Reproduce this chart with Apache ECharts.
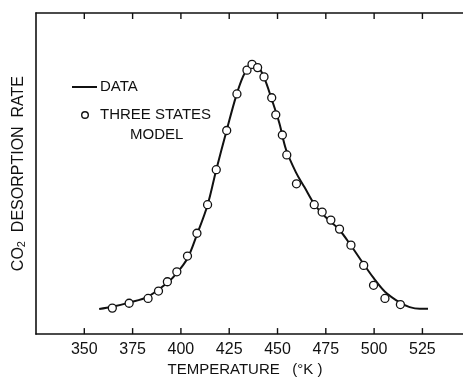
<!DOCTYPE html>
<html>
<head>
<meta charset="utf-8">
<script src="https://cdn.jsdelivr.net/npm/echarts@6/dist/echarts.min.js"></script>
<style>
html,body{margin:0;padding:0;background:#fff;}
#chart{width:463px;height:382px;}
</style>
</head>
<body>
<div id="chart"></div>
<script>
// Measured curve (DATA): temperature (°K) and relative rate
var dataTemp = [357.7, 364.4, 373.2, 383.0, 393.0, 397.9, 403.4, 408.3, 413.8, 418.3, 423.7, 428.6, 432.3, 435.4, 437.5, 439.7, 443.0, 446.9, 451.0, 454.4, 459.6, 464.0, 469.0, 473.3, 477.5, 482.0, 488.0, 494.6, 499.7, 505.6, 513.6, 518.4, 523.6, 527.9];
var dataRate = [7.8, 8.5, 9.8, 11.7, 16.0, 19.0, 23.6, 31.0, 40.2, 51.2, 63.5, 74.2, 80.4, 83.4, 84.4, 83.7, 80.0, 73.3, 65.6, 57.5, 50.3, 45.7, 40.5, 37.4, 35.0, 32.5, 27.6, 21.8, 17.5, 13.2, 9.7, 8.4, 7.9, 7.9];
// Three states model (circles)
var modelTemp = [364.5, 373.2, 383.0, 388.4, 393.0, 397.9, 403.4, 408.3, 413.8, 418.3, 423.7, 429.0, 434.2, 436.8, 439.7, 443.0, 447.0, 449.1, 452.5, 454.8, 459.8, 469.0, 473.1, 477.6, 482.1, 488.0, 494.6, 499.7, 505.6, 513.6];
var modelRate = [8.1, 9.6, 11.1, 13.4, 16.3, 19.4, 24.3, 31.4, 40.3, 51.2, 63.4, 74.8, 82.2, 84.0, 83.0, 80.1, 73.6, 68.3, 62.0, 55.8, 46.8, 40.3, 38.0, 35.5, 32.7, 27.7, 21.4, 15.2, 11.1, 9.2];
var tickValues = [350, 375, 400, 425, 450, 475, 500, 525];

var lineData = dataTemp.map(function (t, i) { return [t, dataRate[i]]; });
var scatterData = modelTemp.map(function (t, i) { return [t, modelRate[i]]; });

var FONT = '"Liberation Sans", Arial, sans-serif';
var INK = '#111';
var Y_MIN = 0, Y_MAX = 100;

var chart = echarts.init(document.getElementById('chart'), null, {renderer: 'canvas'});
chart.setOption({
  animation: false,
  backgroundColor: '#fff',
  grid: {left: 36, right: 0, top: 13, bottom: 43, containLabel: false},
  xAxis: [{
    type: 'value',
    position: 'bottom',
    min: 325, max: 546, interval: 25,
    name: 'TEMPERATURE   (°K )',
    nameLocation: 'middle',
    nameGap: 25,
    nameTextStyle: {fontFamily: FONT, fontSize: 15, color: INK, padding: [0, 9, 0, 0]},
    axisLine: {show: true, onZero: false, lineStyle: {color: INK, width: 1.6}},
    axisTick: {show: false},
    axisLabel: {show: true, margin: 7, fontFamily: FONT, fontSize: 16, color: INK,
      customValues: tickValues},
    splitLine: {show: false}
  }, {
    type: 'value',
    position: 'top',
    min: 325, max: 546, interval: 25,
    axisLine: {show: true, onZero: false, lineStyle: {color: INK, width: 1.6}},
    axisTick: {show: false},
    axisLabel: {show: false},
    splitLine: {show: false}
  }],
  yAxis: {
    type: 'value',
    min: Y_MIN, max: Y_MAX,
    name: '{t|CO}{s|2}{t|  DESORPTION  RATE}',
    nameLocation: 'middle',
    nameGap: 9,
    nameRotate: 90,
    nameTextStyle: {
      rich: {
        t: {fontFamily: FONT, fontSize: 16, color: INK},
        s: {fontFamily: FONT, fontSize: 11, color: INK, verticalAlign: 'bottom', padding: [6, 0, 0, 0]}
      }
    },
    axisLine: {show: true, onZero: false, lineStyle: {color: INK, width: 1.6}},
    axisTick: {show: false},
    axisLabel: {show: false},
    splitLine: {show: false}
  },
  series: [{
    // inward tick marks on the bottom and top frame, placed through the x scale
    name: 'ticks',
    type: 'custom',
    silent: true,
    clip: false,
    xAxisIndex: 0, yAxisIndex: 0,
    data: tickValues.map(function (v) { return [v, Y_MIN]; }),
    encode: {x: 0, y: 1},
    renderItem: function (params, api) {
      var v = api.value(0);
      var b = api.coord([v, Y_MIN]);
      var t = api.coord([v, Y_MAX]);
      var s = {stroke: INK, lineWidth: 1.4, fill: null};
      return {
        type: 'group',
        children: [
          {type: 'line', shape: {x1: b[0], y1: b[1], x2: b[0], y2: b[1] - 6}, style: s},
          {type: 'line', shape: {x1: t[0], y1: t[1], x2: t[0], y2: t[1] + 6}, style: s}
        ]
      };
    },
    z: 1
  }, {
    name: 'DATA',
    type: 'line',
    xAxisIndex: 0, yAxisIndex: 0,
    data: lineData,
    smooth: 0.35,
    showSymbol: false,
    symbol: 'none',
    lineStyle: {color: INK, width: 2},
    z: 2
  }, {
    name: 'THREE STATES MODEL',
    type: 'scatter',
    xAxisIndex: 0, yAxisIndex: 0,
    data: scatterData,
    symbol: 'circle',
    symbolSize: 8,
    itemStyle: {color: '#fff', borderColor: INK, borderWidth: 1.3, opacity: 1},
    z: 3
  }],
  graphic: [
    {type: 'line', shape: {x1: 72, y1: 87, x2: 97, y2: 87}, style: {stroke: INK, lineWidth: 2}},
    {type: 'text', left: 100, top: 79, style: {text: 'DATA', font: '15px ' + FONT, fill: INK}},
    {type: 'circle', shape: {cx: 85, cy: 115, r: 3.3}, style: {fill: '#fff', stroke: INK, lineWidth: 1.4}},
    {type: 'text', left: 100, top: 107, style: {text: 'THREE STATES', font: '15px ' + FONT, fill: INK}},
    {type: 'text', left: 130, top: 127, style: {text: 'MODEL', font: '15px ' + FONT, fill: INK}}
  ]
});
</script>
</body>
</html>
